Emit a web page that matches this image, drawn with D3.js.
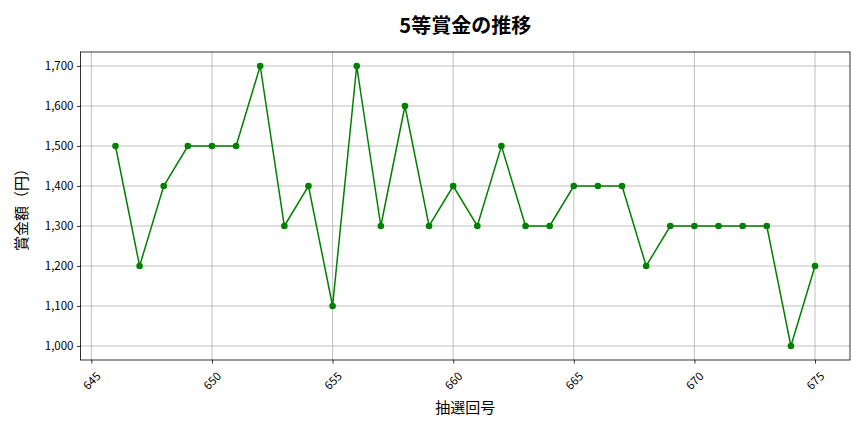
<!DOCTYPE html>
<html><head><meta charset="utf-8">
<script src="https://cdn.jsdelivr.net/npm/d3@7"></script>
<style>body{margin:0;background:#fff;font-family:"Noto Sans CJK JP","Noto Sans",sans-serif;}</style>
</head><body><svg id="c" width="864" height="432"></svg>
<script>
const draws = [646,647,648,649,650,651,652,653,654,655,656,657,658,659,660,661,662,663,664,665,666,667,668,669,670,671,672,673,674,675];
const prizes = [1500,1200,1400,1500,1500,1500,1700,1300,1400,1100,1700,1300,1600,1300,1400,1300,1500,1300,1300,1400,1400,1400,1200,1300,1300,1300,1300,1300,1000,1200];
const xTicks = [645,650,655,660,665,670,675];
const yTicks = [1000,1100,1200,1300,1400,1500,1600,1700];
const title = "5等賞金の推移", xLabel = "抽選回号", yLabel = "賞金額（円）";

const svg = d3.select("#c");
const L=80.5,R=850,T=52,B=360;
const x = d3.scaleLinear().domain([644.55,676.45]).range([L,R]);
const y = d3.scaleLinear().domain([965,1735]).range([B,T]);
const font='"Noto Sans CJK JP","Noto Sans",sans-serif';
const g = svg.append("g");
// grid
g.selectAll(".gx").data(xTicks).join("line").attr("x1",d=>x(d)).attr("x2",d=>x(d)).attr("y1",T).attr("y2",B).attr("stroke","#b0b0b0").attr("stroke-width",0.8);
g.selectAll(".gy").data(yTicks).join("line").attr("y1",d=>y(d)).attr("y2",d=>y(d)).attr("x1",L).attr("x2",R).attr("stroke","#b0b0b0").attr("stroke-width",0.8);
// axes
const xa = svg.append("g").attr("transform",`translate(0,${B})`).call(d3.axisBottom(x).tickValues(xTicks).tickSize(3.5).tickPadding(3).tickFormat(d3.format("d")));
xa.selectAll("text").attr("font-size",11.5).attr("font-family",font).attr("fill","#000")
  .attr("text-anchor","middle").attr("y",0).attr("dy","0.35em").attr("transform","translate(0,21) rotate(-45)");
const ya = svg.append("g").attr("transform",`translate(${L},0)`).call(d3.axisLeft(y).tickValues(yTicks).tickSize(3.5).tickPadding(3.5).tickFormat(d3.format(",")));
ya.selectAll("text").attr("font-size",11.5).attr("font-family",font).attr("fill","#000");
[xa,ya].forEach(a=>{a.select(".domain").remove();a.selectAll("line").attr("stroke","#000").attr("stroke-width",0.8);});
svg.append("rect").attr("x",L).attr("y",T).attr("width",R-L).attr("height",B-T).attr("fill","none").attr("stroke","#000").attr("stroke-width",0.8);
// line
svg.append("path").datum(draws.map((d,i)=>[d,prizes[i]])).attr("fill","none").attr("stroke","green").attr("stroke-width",1.5)
  .attr("d",d3.line().x(d=>x(d[0])).y(d=>y(d[1])));
svg.selectAll(".pt").data(draws.map((d,i)=>[d,prizes[i]])).join("circle").attr("cx",d=>x(d[0])).attr("cy",d=>y(d[1])).attr("r",3.3).attr("fill","green");
// labels
svg.append("text").attr("x",(L+R)/2).attr("y",33).attr("text-anchor","middle").attr("font-size",20).attr("font-weight","bold").attr("font-family",font).text(title);
svg.append("text").attr("x",(L+R)/2).attr("y",413).attr("text-anchor","middle").attr("font-size",15).attr("font-family",font).text(xLabel);
svg.append("text").attr("transform",`translate(27,${(T+B)/2}) rotate(-90)`).attr("text-anchor","middle").attr("font-size",15).attr("font-family",font).text(yLabel);
</script></body></html>
